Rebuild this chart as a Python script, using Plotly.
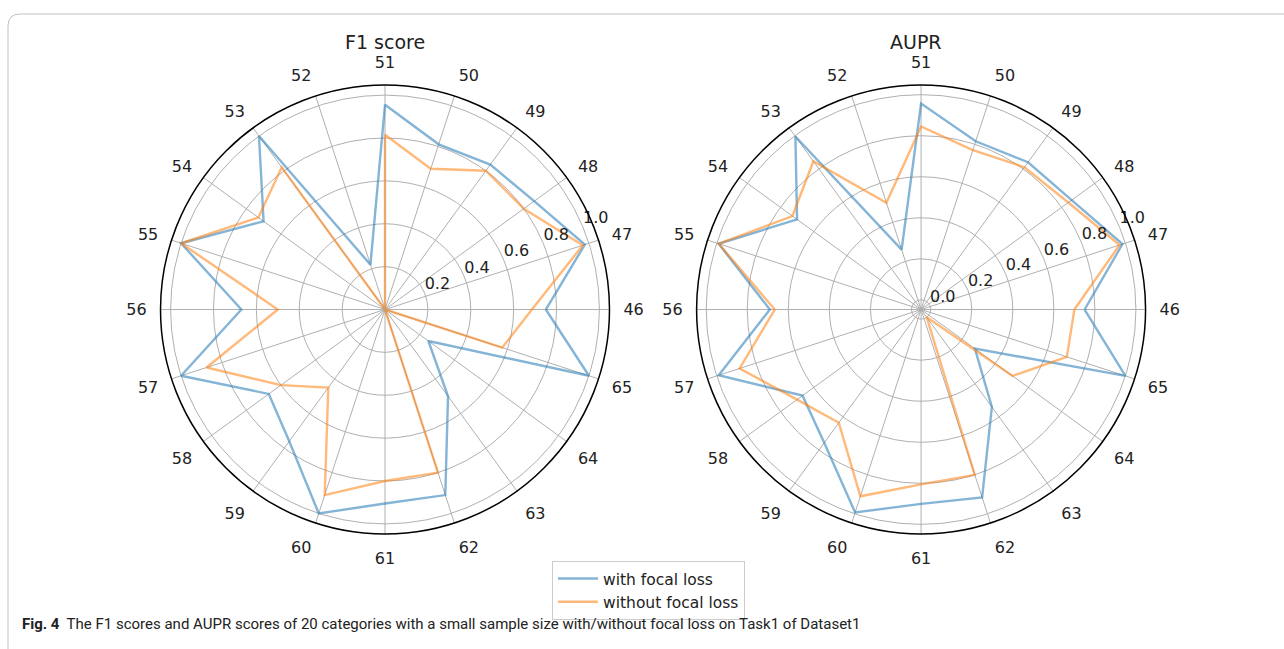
import plotly.graph_objects as go

categories = [str(c) for c in range(46, 66)]

f1_with = [0.75, 0.98, 0.86, 0.835, 0.81, 0.955, 0.22, 1.0, 0.70, 1.0,
           0.67, 1.0, 0.67, 0.76, 1.0, 0.905, 0.91, 0.50, 0.25, 1.0]
f1_without = [0.685, 0.97, 0.80, 0.80, 0.69, 0.815, 0.0, 0.82, 0.73, 1.0,
              0.50, 0.875, 0.60, 0.45, 0.91, 0.80, 0.80, 0.0, 0.0, 0.575]

aupr_with = [0.75, 0.985, 0.86, 0.84, 0.815, 0.957, 0.26, 0.995, 0.70, 0.99,
             0.69, 0.99, 0.667, 0.756, 0.993, 0.90, 0.916, 0.54, 0.277, 1.0]
aupr_without = [0.70, 0.97, 0.84, 0.81, 0.77, 0.845, 0.50, 0.846, 0.728, 0.99,
                0.666, 0.883, 0.70, 0.635, 0.91, 0.805, 0.80, 0.0, 0.504, 0.70]

f1_ticks = [0.2, 0.4, 0.6, 0.8, 1.0]
aupr_ticks = [0.0, 0.2, 0.4, 0.6, 0.8, 1.0]

series_names = ["with focal loss", "without focal loss"]

BLUE = "rgba(31,119,180,0.55)"
ORANGE = "rgba(255,127,14,0.55)"
FONT = "DejaVu Sans"
GRID = "#b0b0b0"
RLABEL_ANGLE = 22.5  # like matplotlib's default rlabel position

# category -> angle (one full turn shared by all categories)
angles = [i * 360.0 / len(categories) for i in range(len(categories))]


def closed(vals):
    return list(vals) + [vals[0]]


theta_closed = closed(angles)

fig = go.Figure()
for sub, w, wo, show in (("polar", f1_with, f1_without, True),
                         ("polar2", aupr_with, aupr_without, False)):
    fig.add_trace(go.Scatterpolar(r=closed(w), theta=theta_closed, mode="lines",
                                  line=dict(color=BLUE, width=2.4), name=series_names[0],
                                  subplot=sub, legendgroup="a", showlegend=show,
                                  text=closed(categories), hovertemplate="%{text}: %{r}<extra></extra>"))
    fig.add_trace(go.Scatterpolar(r=closed(wo), theta=theta_closed, mode="lines",
                                  line=dict(color=ORANGE, width=2.4), name=series_names[1],
                                  subplot=sub, legendgroup="b", showlegend=show,
                                  text=closed(categories), hovertemplate="%{text}: %{r}<extra></extra>"))

# radial tick labels (matplotlib style, horizontal, beside the 22.5 deg ray)
for sub, ticks in (("polar", f1_ticks), ("polar2", aupr_ticks)):
    fig.add_trace(go.Scatterpolar(r=ticks, theta=[RLABEL_ANGLE] * len(ticks), mode="text",
                                  text=[f"{t:.1f}" for t in ticks], textposition="top right",
                                  textfont=dict(family=FONT, size=16, color="#222"),
                                  subplot=sub, showlegend=False, hoverinfo="skip",
                                  cliponaxis=False))


def polar_layout(xdom, rng, ticks):
    return dict(
        domain=dict(x=xdom, y=[0.1772, 0.8690]),
        bgcolor="white",
        angularaxis=dict(
            type="linear", thetaunit="degrees", tickmode="array",
            tickvals=angles, ticktext=categories, rotation=0,
            direction="counterclockwise", showline=True, linecolor="black",
            linewidth=1.5, gridcolor=GRID, gridwidth=1, ticks="outside",
            ticklen=10, tickcolor="rgba(0,0,0,0)",
            tickfont=dict(family=FONT, size=16, color="#222"),
        ),
        radialaxis=dict(
            range=rng, angle=RLABEL_ANGLE, showline=False, tickvals=ticks,
            showticklabels=False, gridcolor=GRID, gridwidth=1, ticks="",
        ),
    )


fig.update_layout(
    width=1284, height=649,
    margin=dict(l=0, r=0, t=0, b=0),
    paper_bgcolor="white",
    polar=polar_layout([0.1250, 0.4747], [0, 1.047], f1_ticks),
    polar2=polar_layout([0.5425, 0.8922], [-0.047, 1.047], aupr_ticks),
    showlegend=True,
    legend=dict(x=0.4299, y=0.1356, xanchor="left", yanchor="top",
                bordercolor="#cccccc", borderwidth=1, bgcolor="white",
                font=dict(family=FONT, size=15.5, color="#222"),
                itemwidth=40, tracegroupgap=0),
)

fig.add_annotation(text="F1 score", x=0.29984, y=0.9353, xref="paper", yref="paper",
                   xanchor="center", yanchor="middle",
                   showarrow=False, font=dict(family=FONT, size=19, color="#222"))
fig.add_annotation(text="AUPR", x=0.7134, y=0.9353, xref="paper", yref="paper",
                   xanchor="center", yanchor="middle",
                   showarrow=False, font=dict(family=FONT, size=19, color="#222"))
fig.add_annotation(
    text="<b>Fig. 4</b>  The F1 scores and AUPR scores of 20 categories with a small sample size with/without focal loss on Task1 of Dataset1",
    x=0.0156, y=0.0385, xref="paper", yref="paper", xanchor="left", yanchor="middle",
    showarrow=False, font=dict(family="Liberation Sans Narrow, Roboto", size=15, color="#222"))

fig.add_shape(type="path", xref="paper", yref="paper",
              path="M 0.00623,-0.01 L 0.00623,0.95994 Q 0.00623,0.97843 0.01558,0.97843 L 1.01,0.97843",
              line=dict(color="#c0c0c0", width=1))

fig.write_html("out.html", config={"displayModeBar": False},
               post_script="document.body.style.margin='0';document.body.style.overflow='hidden';")
